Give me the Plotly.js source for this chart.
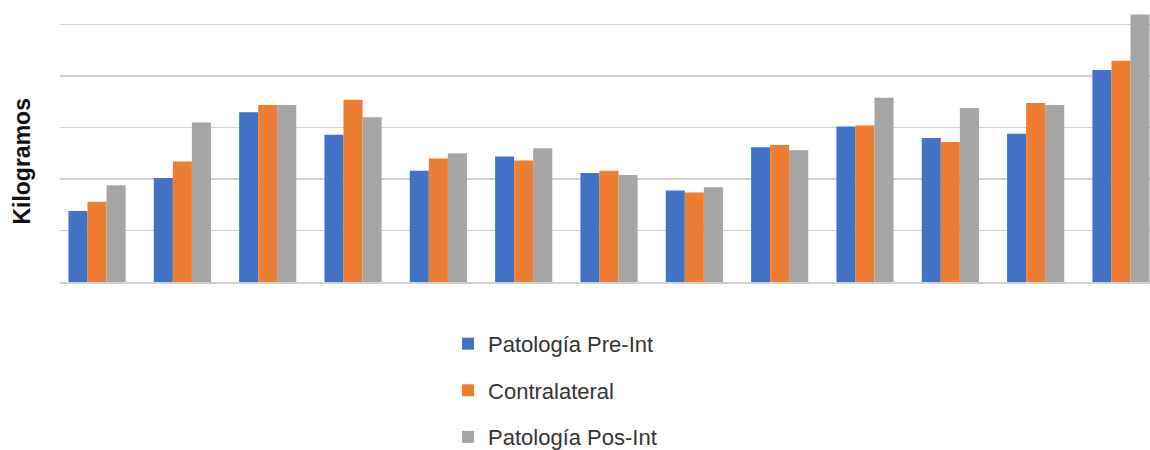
<!DOCTYPE html>
<html>
<head>
<meta charset="utf-8">
<script src="https://cdn.plot.ly/plotly-3.0.1.min.js"></script>
<style>body{margin:0;background:#fff}#chart{width:1150px;height:450px}</style>
</head>
<body>
<div id="chart"></div>
<script>
const categories = ["1","2","3","4","5","6","7","8","9","10","11","12","13"];
const preInt = [6.9, 10.1, 16.5, 14.3, 10.8, 12.2, 10.6, 8.9, 13.1, 15.1, 14.0, 14.4, 20.6];
const contralateral = [7.8, 11.7, 17.2, 17.7, 12.0, 11.8, 10.8, 8.7, 13.3, 15.2, 13.6, 17.4, 21.5];
const posInt = [9.4, 15.5, 17.2, 16.0, 12.5, 13.0, 10.4, 9.2, 12.8, 17.9, 16.9, 17.2, 26.0];
const seriesNames = ["Patología Pre-Int", "Contralateral", "Patología Pos-Int"];
const colors = ["#4472C4", "#ED7D31", "#A5A5A5"];

const series = [preInt, contralateral, posInt];
const data = series.map((vals, i) => ({
  type: 'bar',
  x: categories,
  y: vals,
  name: seriesNames[i],
  legendgroup: 'g' + i,
  marker: {color: colors[i]},
  hoverinfo: 'y+name'
}));

const layout = {
  width: 1150, height: 450,
  margin: {l: 60, r: 0, t: 0, b: 168, autoexpand: false},
  paper_bgcolor: '#fff', plot_bgcolor: '#fff',
  barmode: 'group',
  bargap: 0.33,
  bargroupgap: 0,
  font: {family: 'Liberation Sans, Arial, sans-serif', color: '#333'},
  xaxis: {
    type: 'category',
    range: [-0.434, 12.34],
    showticklabels: false,
    showgrid: false,
    zeroline: false,
    showline: true,
    linecolor: '#d0d0d0',
    linewidth: 1.5,
    ticks: ''
  },
  yaxis: {
    range: [0, 27.4],
    dtick: 5,
    showticklabels: false,
    showgrid: true,
    gridcolor: '#d0d0d0',
    gridwidth: 1.5,
    zeroline: false,
    ticks: ''
  },
  showlegend: true,
  legend: {
    orientation: 'v',
    x: 0.356, xanchor: 'left',
    y: -0.145, yanchor: 'top',
    font: {size: 22, color: '#333', family: 'Liberation Sans, Arial, sans-serif'},
    tracegroupgap: 15,
    traceorder: 'grouped'
  },
  annotations: [{
    text: '<b>Kilogramos</b>',
    xref: 'paper', yref: 'paper',
    x: -0.035, y: 0.43,
    xanchor: 'center', yanchor: 'middle',
    textangle: -90,
    showarrow: false,
    font: {size: 23, color: '#111', family: 'Liberation Sans, Arial, sans-serif'}
  }]
};

Plotly.newPlot('chart', data, layout, {displayModeBar: false, staticPlot: true});
</script>
</body>
</html>
